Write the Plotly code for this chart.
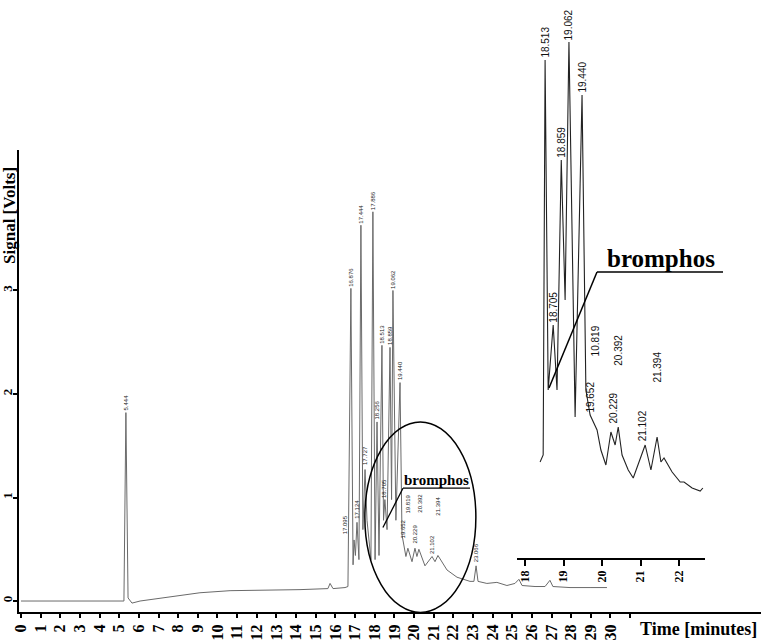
import plotly.graph_objects as go

# main chromatogram (minutes, volts)
time_min = [0, 5.24, 5.34, 5.45, 5.65, 6.06, 9.11, 10.64, 14.20, 15.22, 15.62, 15.73, 15.88,
            16.49, 16.64, 16.79, 16.90, 16.95, 17.02, 17.10, 17.20, 17.30, 17.40, 17.51, 17.61,
            17.81, 17.91, 18.02, 18.12, 18.22, 18.37, 18.45, 18.52, 18.63, 18.78, 18.86, 18.93,
            19.08, 19.29, 19.39, 19.49, 19.59, 19.69, 19.90, 20.05, 20.15, 20.25, 20.56, 20.92,
            21.07, 21.22, 21.68, 22.19, 22.85, 23.05, 23.16, 23.26, 23.71, 24.22, 24.73, 25.14,
            25.34, 25.50, 26.16, 26.67, 26.92, 27.07, 27.94, 28.96, 29.82]
signal_v = [0, 0, 1.82, 0.03, -0.02, 0, 0.08, 0.10, 0.11, 0.12, 0.12, 0.17, 0.12,
            0.13, 0.14, 3.02, 0.35, 0.59, 0.44, 0.76, 0.40, 3.63, 0.69, 1.27, 0.78,
            0.40, 3.76, 0.40, 1.73, 0.44, 2.47, 0.78, 0.98, 0.69, 2.45, 0.98, 3.00,
            0.78, 2.11, 0.64, 0.54, 0.43, 0.51, 0.38, 0.51, 0.43, 0.50, 0.34, 0.43,
            0.38, 0.44, 0.30, 0.23, 0.19, 0.19, 0.34, 0.19, 0.17, 0.18, 0.15, 0.17,
            0.21, 0.15, 0.14, 0.14, 0.20, 0.14, 0.13, 0.13, 0.13]

# retention time labels in the main chart
peak_names = ["5.444", "16.876", "17.095", "17.124", "17.444", "17.727", "17.886", "18.256",
              "18.513", "18.705", "18.859", "19.062", "19.440", "19.652", "19.819", "20.229",
              "20.392", "21.102", "21.394", "23.066"]
peak_t = [5.34, 16.79, 16.49, 17.10, 17.30, 17.51, 17.91, 18.12,
          18.37, 18.47, 18.78, 18.93, 19.29, 19.44, 19.69, 20.05,
          20.31, 20.92, 21.22, 23.16]
peak_v = [1.82, 3.02, 0.62, 0.78, 3.63, 1.29, 3.76, 1.73,
          2.47, 0.98, 2.45, 3.00, 2.11, 0.59, 0.83, 0.54,
          0.83, 0.43, 0.81, 0.35]

# zoomed inset 18-22.5 min (arbitrary signal units)
inset_t = [18.39, 18.47, 18.52, 18.60, 18.73, 18.83, 18.94, 19.04, 19.14, 19.30, 19.48,
           19.58, 19.69, 19.87, 19.97, 20.10, 20.23, 20.34, 20.42, 20.52, 20.68, 20.81,
           21.12, 21.27, 21.43, 21.53, 21.61, 21.82, 22.03, 22.13, 22.34, 22.55, 22.62]
inset_v = [0.96, 1.03, 4.98, 1.68, 2.33, 1.68, 3.98, 2.58, 5.16, 1.41, 4.63,
           1.68, 1.43, 1.28, 1.08, 0.93, 1.26, 1.13, 1.31, 1.03, 0.88, 0.80,
           1.13, 0.88, 1.21, 0.96, 1.00, 0.86, 0.76, 0.76, 0.70, 0.67, 0.70]
inset_names = ["18.513", "18.705", "18.859", "19.062", "19.440", "19.652", "10.819",
               "20.229", "20.392", "21.102", "21.394"]
inset_lab_t = [18.52, 18.73, 18.94, 19.14, 19.48, 19.69, 19.84, 20.31, 20.42, 21.06, 21.43]
inset_lab_v = [4.98, 2.33, 3.98, 5.16, 4.63, 1.43, 2.00, 1.33, 1.90, 1.15, 1.73]

x_ticks = list(range(0, 32))
inset_ticks = [18, 19, 20, 21, 22]
y_ticks = [0, 1, 2, 3]

W, H = 761, 640
L, B = 19, 28


def px(x):
    # screen x -> paper
    return (x - L) / (W - L)


def py(y):
    # screen y -> paper
    return (H - B - y) / (H - B)


serif = "Liberation Serif"

fig = go.Figure()
fig.add_trace(go.Scatter(x=time_min, y=signal_v, mode="lines",
                         line=dict(color="#6a6a6a", width=1), xaxis="x", yaxis="y"))
fig.add_trace(go.Scatter(x=inset_t, y=inset_v, mode="lines",
                         line=dict(color="#222222", width=1.1), xaxis="x2", yaxis="y2"))

ann = []
for name, t, v in zip(peak_names, peak_t, peak_v):
    ann.append(dict(x=t, y=v, xref="x", yref="y", text=name, textangle=-90, showarrow=False,
                    xanchor="center", yanchor="bottom",
                    font=dict(family="Arial", size=6, color="#222")))
for name, t, v in zip(inset_names, inset_lab_t, inset_lab_v):
    ann.append(dict(x=t, y=v, xref="x2", yref="y2", text=name, textangle=-90, showarrow=False,
                    xanchor="center", yanchor="bottom",
                    font=dict(family="Arial", size=10, color="#111")))

ann.append(dict(x=px(698), y=py(629), xref="paper", yref="paper", text="Time [minutes]",
                xanchor="center", yanchor="middle", showarrow=False,
                font=dict(family=serif, size=18, color="black", weight="bold")))
ann.append(dict(x=px(10), y=py(216), xref="paper", yref="paper", text="Signal [Volts]",
                xanchor="center", yanchor="middle", textangle=-90, showarrow=False,
                font=dict(family=serif, size=17, color="black", weight="bold")))
ann.append(dict(x=21.15, y=1.09, xref="x", yref="y", text="bromphos", showarrow=False,
                xanchor="center", yanchor="bottom", yshift=-2,
                font=dict(family=serif, size=15, color="black", weight="bold")))
ann.append(dict(x=px(661), y=py(274), xref="paper", yref="paper", text="bromphos",
                xanchor="center", yanchor="bottom", showarrow=False,
                font=dict(family=serif, size=25, color="black", weight="bold")))

shapes = [
    dict(type="circle", xref="x", yref="y", x0=17.5, x1=23.15, y0=-0.11, y1=1.73,
         line=dict(color="black", width=1.5)),
    dict(type="line", xref="x", yref="y", x0=19.44, y0=1.09, x1=22.85, y1=1.09,
         line=dict(color="black", width=1.3)),
    dict(type="line", xref="x", yref="y", x0=19.44, y0=1.09, x1=18.42, y1=0.71,
         line=dict(color="black", width=1.3)),
    dict(type="line", xref="paper", yref="paper", x0=px(597), y0=py(272), x1=px(723), y1=py(272),
         line=dict(color="black", width=1.5)),
    dict(type="line", xref="paper", yref="paper", x0=px(597), y0=py(272), x1=px(549), y1=py(388),
         line=dict(color="black", width=1.5)),
]

fig.update_layout(
    width=W, height=H,
    margin=dict(l=L, r=0, t=0, b=B, autoexpand=False),
    paper_bgcolor="white", plot_bgcolor="white",
    showlegend=False,
    annotations=ann,
    shapes=shapes,
    xaxis=dict(domain=[0, 1], range=[-0.1, 37.66], anchor="y", automargin=False,
               tickvals=x_ticks, ticktext=[str(i) if i <= 30 else "" for i in x_ticks],
               tickangle=-90, ticks="outside", ticklen=4, tickwidth=1.5, tickcolor="black",
               showline=True, linecolor="black", linewidth=2,
               showgrid=False, zeroline=False,
               tickfont=dict(family=serif, size=16, color="black", weight="bold")),
    yaxis=dict(domain=[0, py(150)], range=[-0.106, 4.357], anchor="x", automargin=False,
               tickvals=y_ticks, tickangle=-90, ticks="outside", ticklen=4, tickwidth=1.5,
               tickcolor="black", showline=True, linecolor="black", linewidth=2,
               showgrid=False, zeroline=False, ticklabelstandoff=-4,
               tickfont=dict(family=serif, size=13, color="black", weight="bold")),
    xaxis2=dict(domain=[px(517), px(705)], range=[17.79, 22.675], anchor="y2", automargin=False,
                tickvals=inset_ticks, tickangle=-90, ticks="outside", ticklen=6, tickwidth=1.5,
                tickcolor="black", showline=True, linecolor="black", linewidth=1.5,
                showgrid=False, zeroline=False,
                tickfont=dict(family=serif, size=12, color="black", weight="bold")),
    yaxis2=dict(domain=[py(558), 1], range=[0, 5.58], anchor="x2", visible=False,
                automargin=False),
)

# drop the default page margin so the figure sits in the window corner
fig.write_html("out.html", config={"displayModeBar": False},
               post_script="document.body.style.margin = '0';")
